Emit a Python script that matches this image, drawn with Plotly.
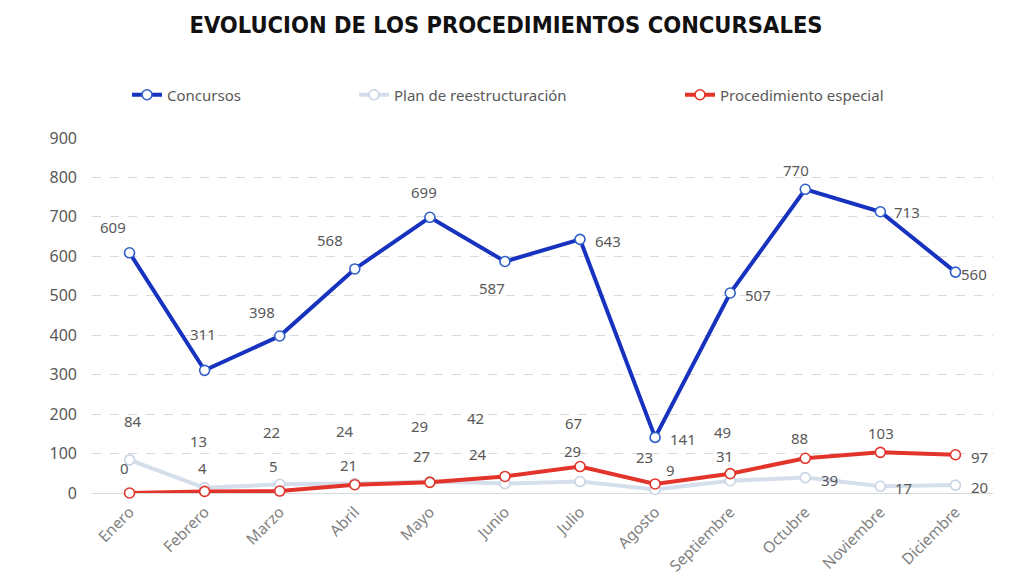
import plotly.graph_objects as go

months = ["Enero", "Febrero", "Marzo", "Abril", "Mayo", "Junio", "Julio",
          "Agosto", "Septiembre", "Octubre", "Noviembre", "Diciembre"]
concursos = [609, 311, 398, 568, 699, 587, 643, 141, 507, 770, 713, 560]
plan = [84, 13, 22, 24, 29, 24, 29, 9, 31, 39, 17, 20]
especial = [0, 4, 5, 21, 27, 42, 67, 23, 49, 88, 103, 97]
y_ticks = [0, 100, 200, 300, 400, 500, 600, 700, 800, 900]

# label offsets in pixels (dx, dy; dy positive = downwards)
off_conc = [(-17, -26), (-2, -36), (-18, -24), (-25, -29), (-6, -25), (-13, 27),
            (28, 2), (28, 2), (28, 2), (-9, -19), (27, 0), (19, 2)]
off_plan = [(3, -39), (-6, -47), (-8, -52), (-10, -53), (-10, -56), (-27, -30),
            (-8, -31), (15, -19), (-6, -25), (24, 2), (23, 2), (24, 2)]
off_esp = [(-5, -25), (-2, -23), (-6, -25), (-6, -20), (-8, -26), (-29, -58),
           (-7, -44), (-11, -27), (-8, -42), (-6, -20), (1, -19), (24, 2)]

BLUE = "#1632BE"
RED = "#E3342B"
LIGHT = "#D5DFEC"
FONT = "Noto Sans"

fig = go.Figure()


def add(name, vals, color, mcolor, legend):
    fig.add_trace(go.Scatter(
        x=months, y=vals, name=name, mode="lines+markers",
        line=dict(color=color, width=4),
        marker=dict(size=10, color="white", line=dict(color=mcolor, width=1.6)),
        cliponaxis=False, hoverinfo="skip", legend=legend,
    ))


add("Plan de reestructuración", plan, LIGHT, "#C9D5E6", "legend2")
add("Procedimiento especial", especial, RED, RED, "legend3")
add("Concursos", concursos, BLUE, "#2F5FC8", "legend")

annotations = []
for vals, offs in ((concursos, off_conc), (plan, off_plan), (especial, off_esp)):
    for m, v, (dx, dy) in zip(months, vals, offs):
        annotations.append(dict(
            x=m, y=v, xref="x", yref="y", text=str(v), showarrow=False,
            xanchor="center", yanchor="middle", xshift=dx, yshift=-dy,
            font=dict(family=FONT, size=15, color="#595959"),
        ))

leg_common = dict(orientation="h", xref="container", yref="container",
                  yanchor="middle", y=1 - 95 / 582, bgcolor="rgba(0,0,0,0)",
                  font=dict(family=FONT, size=15, color="#595959"))

fig.update_layout(
    width=1024, height=582,
    margin=dict(l=92, r=31, t=138, b=89),
    paper_bgcolor="white", plot_bgcolor="white",
    title=dict(text="<b>EVOLUCION DE LOS PROCEDIMIENTOS CONCURSALES</b>",
               x=506 / 1024, xanchor="center", xref="container",
               y=1 - 25 / 582, yanchor="middle", yref="container",
               font=dict(family="DejaVu Sans Condensed", size=23.5, color="#111111")),
    showlegend=True,
    legend=dict(x=127 / 1024, **leg_common),
    legend2=dict(x=354 / 1024, **leg_common),
    legend3=dict(x=680 / 1024, **leg_common),
    annotations=annotations,
    xaxis=dict(type="category", range=[-0.5, 11.5], showgrid=False, showline=False,
               ticks="", tickangle=-45, ticklabelstandoff=6, automargin=False,
               tickfont=dict(family=FONT, size=15.5, color="#7F7F7F")),
    yaxis=dict(range=[0, 900], tickvals=y_ticks, showgrid=True, gridcolor="#D9D9D9",
               griddash="dash", gridwidth=1, zeroline=True, zerolinecolor="#D9D9D9",
               zerolinewidth=1, showline=False, ticks="", automargin=False,
               ticklabelstandoff=14,
               tickfont=dict(family=FONT, size=16, color="#595959")),
)

fig.write_html("out.html")
